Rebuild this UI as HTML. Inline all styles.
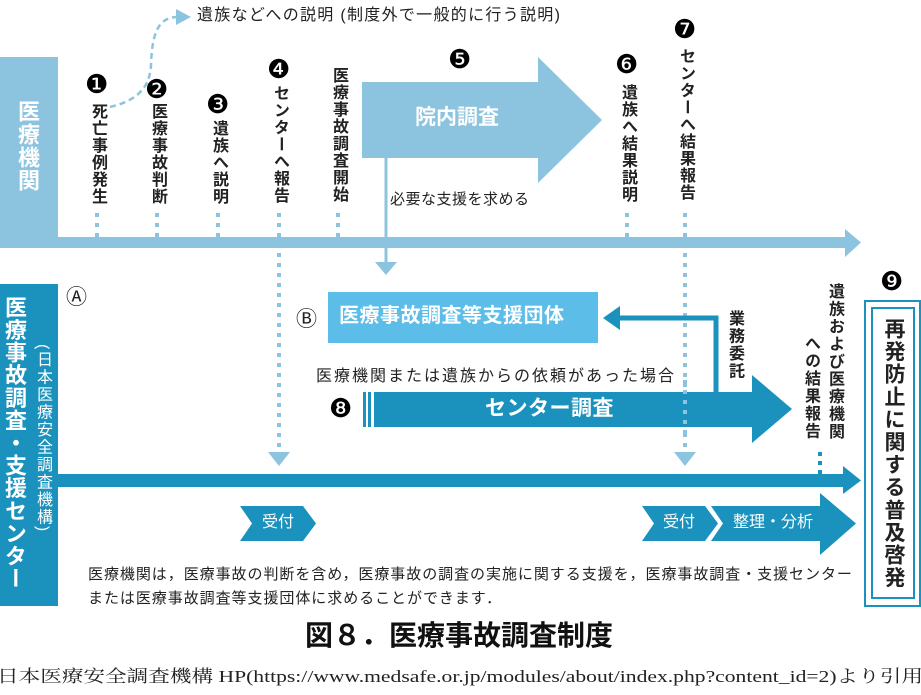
<!DOCTYPE html>
<html><head><meta charset="utf-8"><style>
body{margin:0;width:921px;height:695px;overflow:hidden;background:#fff;position:relative;font-family:"Liberation Sans","Noto Sans CJK JP",sans-serif;}
svg{position:absolute;left:0;top:0}
.v{position:absolute;writing-mode:vertical-rl;white-space:nowrap;line-height:1;color:#222;}
.t{position:absolute;white-space:nowrap;line-height:1;color:#222;}
.n{position:absolute;font-family:"DejaVu Sans",sans-serif;font-size:26px;line-height:1;color:#000;}
</style></head><body>
<svg width="921" height="695" viewBox="0 0 921 695">
<rect x="0" y="57" width="58" height="191" fill="#8cc4e0"/>
<rect x="58" y="237" width="790" height="11" fill="#8cc4e0"/>
<polygon points="845,229 861,242.5 845,257" fill="#8cc4e0"/>
<g stroke="#8cc4e0" stroke-width="4" stroke-dasharray="4,6">
<line x1="97" y1="213" x2="97" y2="237"/>
<line x1="157" y1="213" x2="157" y2="237"/>
<line x1="218" y1="213" x2="218" y2="237"/>
<line x1="279" y1="213" x2="279" y2="455"/>
<line x1="338" y1="213" x2="338" y2="237"/>
<line x1="627" y1="213" x2="627" y2="237"/>
<line x1="685" y1="213" x2="685" y2="455"/>
</g>
<polygon points="268,452 290,452 279,466" fill="#8cc4e0"/>
<polygon points="674,452 696,452 685,466" fill="#8cc4e0"/>
<path d="M110,107 C140,100 150,85 151,65 C152,30 160,18 176,17" fill="none" stroke="#8cc4e0" stroke-width="2.5" stroke-dasharray="6,4"/>
<polygon points="176,9 191,17 176,25" fill="#8cc4e0"/>
<polygon points="362,82 538,82 538,57 602,120 538,183 538,158 362,158" fill="#8cc4e0"/>
<line x1="386" y1="158" x2="386" y2="264" stroke="#8cc4e0" stroke-width="3"/>
<polygon points="375,262 397,262 386,275" fill="#8cc4e0"/>
<rect x="0" y="284" width="58" height="322" fill="#1a92bd"/>
<rect x="58" y="474" width="790" height="13" fill="#1a92bd"/>
<polygon points="843,466 861,480.5 843,494" fill="#1a92bd"/>
<rect x="328" y="292" width="270" height="51" fill="#5cbde8"/>
<polyline points="716,392 716,318 617,318" fill="none" stroke="#1a92bd" stroke-width="5"/>
<polygon points="620,306 603,318 620,330" fill="#1a92bd"/>
<rect x="363" y="392" width="3" height="35" fill="#1a92bd"/>
<rect x="368" y="392" width="3" height="35" fill="#1a92bd"/>
<polygon points="374,392 752,392 752,375 792,409 752,443 752,427 374,427" fill="#1a92bd"/>
<line x1="685" y1="380" x2="685" y2="440" stroke="#8cc4e0" stroke-width="4" stroke-dasharray="4,6"/>
<line x1="820" y1="452" x2="820" y2="474" stroke="#1a92bd" stroke-width="4" stroke-dasharray="4,5"/>
<polygon points="240,506 303,506 316,523.5 303,541 240,541 252,523.5" fill="#1a92bd"/>
<polygon points="642,506 705,506 718,523.5 705,541 642,541 654,523.5" fill="#1a92bd"/>
<polygon points="711,506 820,506 820,493 856,523.5 820,555 820,541 711,541 723,523.5" fill="#1a92bd"/>
<rect x="865" y="301" width="55" height="305" fill="none" stroke="#1a92bd" stroke-width="2"/>
<rect x="872" y="308" width="42" height="290" fill="none" stroke="#1a92bd" stroke-width="2"/>
<text x="-3" y="682" textLength="926" lengthAdjust="spacingAndGlyphs" font-family="'Liberation Serif','Noto Serif CJK SC',serif" font-size="17" fill="#222">日本医療安全調査機構 HP(https://www.medsafe.or.jp/modules/about/index.php?content_id=2)より引用</text>
</svg>

<div class="v" style="left:16px;top:100px;font-size:22px;color:#fff;letter-spacing:1px;font-weight:bold;">医療機関</div>
<div class="t" style="left:197px;top:8px;font-size:16px;letter-spacing:1.3px;">遺族などへの説明 (制度外で一般的に行う説明)</div>

<div class="n" style="left:85px;top:72px;">❶</div>
<div class="v" style="left:89px;top:103px;font-size:16px;letter-spacing:1px;font-weight:bold;">死亡事例発生</div>
<div class="n" style="left:145px;top:77px;">❷</div>
<div class="v" style="left:149px;top:103px;font-size:16px;letter-spacing:1px;font-weight:bold;">医療事故判断</div>
<div class="n" style="left:206px;top:92px;">❸</div>
<div class="v" style="left:210px;top:120px;font-size:16px;letter-spacing:1px;font-weight:bold;">遺族へ説明</div>
<div class="n" style="left:267px;top:57px;">❹</div>
<div class="v" style="left:271px;top:85px;font-size:16px;letter-spacing:1px;font-weight:bold;">センターへ報告</div>
<div class="v" style="left:330px;top:67px;font-size:16px;letter-spacing:1px;font-weight:bold;">医療事故調査開始</div>
<div class="n" style="left:448px;top:47px;">❺</div>
<div class="t" style="left:415px;top:107px;font-size:21px;color:#fff;font-weight:bold;">院内調査</div>
<div class="t" style="left:390px;top:192px;font-size:15px;letter-spacing:0.5px;">必要な支援を求める</div>
<div class="n" style="left:615px;top:52px;">❻</div>
<div class="v" style="left:619px;top:84px;font-size:16px;letter-spacing:1px;font-weight:bold;">遺族へ結果説明</div>
<div class="n" style="left:673px;top:17px;">❼</div>
<div class="v" style="left:677px;top:48px;font-size:16px;letter-spacing:1px;font-weight:bold;">センターへ結果報告</div>

<div class="v" style="left:3px;top:296px;font-size:22px;color:#fff;letter-spacing:0.6px;font-weight:bold;">医療事故調査・支援センター</div>
<div class="v" style="left:34px;top:344px;font-size:16px;color:#fff;letter-spacing:1.5px;">(日本医療安全調査機構)</div>
<div class="t" style="left:66px;top:287px;font-size:21px;">Ⓐ</div>
<div class="t" style="left:296px;top:309px;font-size:21px;">Ⓑ</div>
<div class="t" style="left:339px;top:306px;font-size:20px;color:#fff;letter-spacing:0.5px;font-weight:bold;">医療事故調査等支援団体</div>
<div class="t" style="left:316px;top:369px;font-size:16px;letter-spacing:2px;">医療機関または遺族からの依頼があった場合</div>
<div class="n" style="left:329px;top:396px;">❽</div>
<div class="t" style="left:485px;top:398px;font-size:21px;color:#fff;font-weight:bold;letter-spacing:0.5px;">センター調査</div>
<div class="v" style="left:726px;top:310px;font-size:16px;letter-spacing:1.5px;font-weight:bold;">業務委託</div>
<div class="v" style="left:826px;top:283px;font-size:16px;letter-spacing:1.5px;font-weight:bold;">遺族および医療機関</div>
<div class="v" style="left:802px;top:335px;font-size:16px;letter-spacing:1.5px;font-weight:bold;">への結果報告</div>
<div class="n" style="left:880px;top:269px;">❾</div>
<div class="v" style="left:883px;top:318px;font-size:21px;letter-spacing:1.6px;font-weight:bold;">再発防止に関する普及啓発</div>

<div class="t" style="left:262px;top:515px;font-size:16px;color:#fff;">受付</div>
<div class="t" style="left:663px;top:515px;font-size:16px;color:#fff;">受付</div>
<div class="t" style="left:733px;top:515px;font-size:16px;color:#fff;">整理・分析</div>

<div class="t" style="left:88px;top:567px;font-size:15px;letter-spacing:0.95px;">医療機関は，医療事故の判断を含め，医療事故の調査の実施に関する支援を，医療事故調査・支援センター</div>
<div class="t" style="left:88px;top:591px;font-size:15px;letter-spacing:0.95px;">または医療事故調査等支援団体に求めることができます．</div>
<div class="t" style="left:305px;top:622px;font-size:28px;font-weight:bold;color:#111;">図８．医療事故調査制度</div>
</body></html>
